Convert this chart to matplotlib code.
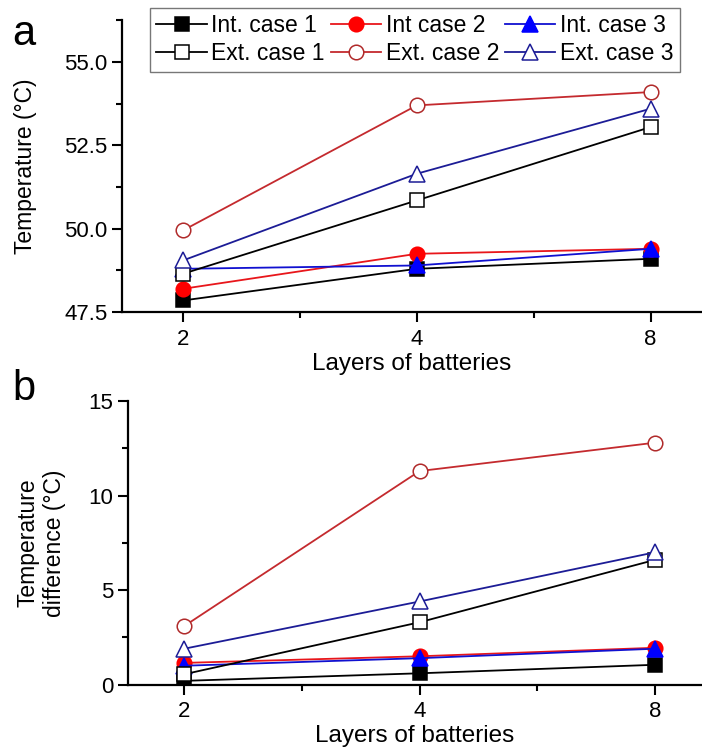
import matplotlib
matplotlib.use('Agg')
import matplotlib.pyplot as plt
from matplotlib.ticker import MultipleLocator, AutoMinorLocator

plt.rcParams['font.family'] = ['Liberation Sans', 'DejaVu Sans']

layers = ['2', '4', '8']
x = [0, 1, 2]

# panel a: temperature (deg C)
temp_int1 = [47.85, 48.8, 49.1]
temp_int2 = [48.2, 49.25, 49.4]
temp_int3 = [48.8, 48.9, 49.4]
temp_ext1 = [48.65, 50.85, 53.05]
temp_ext2 = [49.95, 53.7, 54.1]
temp_ext3 = [49.05, 51.65, 53.6]

# panel b: temperature difference (deg C)
diff_int1 = [0.2, 0.6, 1.05]
diff_int2 = [1.15, 1.5, 1.95]
diff_int3 = [1.0, 1.4, 1.9]
diff_ext1 = [0.55, 3.3, 6.6]
diff_ext2 = [3.1, 11.3, 12.8]
diff_ext3 = [1.9, 4.4, 7.0]

labels = ['Int. case 1', 'Int case 2', 'Int. case 3',
          'Ext. case 1', 'Ext. case 2', 'Ext. case 3']

styles = [
    dict(color='black', marker='s', mfc='black', mec='black', ms=9.5),
    dict(color='#e8161b', marker='o', mfc='#ff0000', mec='#ff0000', ms=10.5),
    dict(color='#1010d0', marker='^', mfc='#0000ff', mec='#0000ff', ms=11),
    dict(color='black', marker='s', mfc='white', mec='black', ms=9.5),
    dict(color='#c42a2e', marker='o', mfc='white', mec='#b02a2a', ms=10.5),
    dict(color='#1c1c96', marker='^', mfc='white', mec='#1c1c96', ms=11),
]

fig = plt.figure(figsize=(7.02, 7.54), dpi=100)
ax1 = fig.add_axes([0.174, 0.586, 0.826, 0.387])
ax2 = fig.add_axes([0.182, 0.092, 0.818, 0.376])


def draw(ax, series):
    handles = []
    for y, st in zip(series, styles):
        h, = ax.plot(x, y, lw=1.3, mew=1.1, **st)
        handles.append(h)
    ax.set_xticks(x)
    ax.set_xticklabels(layers)
    ax.xaxis.set_minor_locator(MultipleLocator(0.5))
    ax.yaxis.set_minor_locator(AutoMinorLocator(2))
    ax.spines['top'].set_visible(False)
    ax.spines['right'].set_visible(False)
    for s in ['left', 'bottom']:
        ax.spines[s].set_linewidth(1.6)
    ax.tick_params(which='major', direction='out', length=7, width=1.5, labelsize=16)
    ax.tick_params(axis='x', which='major', pad=5)
    ax.tick_params(which='minor', direction='out', length=4, width=1.5)
    ax.set_xlabel('Layers of batteries', fontsize=17.5, labelpad=2)
    return handles


handles = draw(ax1, [temp_int1, temp_int2, temp_int3, temp_ext1, temp_ext2, temp_ext3])
ax1.set_xlim(-0.26, 2.22)
ax1.set_ylim(47.5, 56.25)
ax1.set_yticks([47.5, 50.0, 52.5, 55.0])
ax1.set_yticklabels(['47.5', '50.0', '52.5', '55.0'])
ax1.set_ylabel('Temperature (°C)', fontsize=16.5, labelpad=20)

draw(ax2, [diff_int1, diff_int2, diff_int3, diff_ext1, diff_ext2, diff_ext3])
ax2.set_xlim(-0.24, 2.2)
ax2.set_ylim(0, 15)
ax2.set_yticks([0, 5, 10, 15])
ax2.set_ylabel('Temperature\ndifference (°C)', fontsize=16.5, labelpad=16)

order = [0, 3, 1, 4, 2, 5]
leg = fig.legend([handles[i] for i in order], [labels[i] for i in order],
                 ncol=3, loc='upper left', bbox_to_anchor=(0.213, 0.99),
                 fontsize=16.5, frameon=True, fancybox=False, edgecolor='#555555',
                 handlelength=2.2, handletextpad=0.2, columnspacing=0.25,
                 labelspacing=0.2, borderpad=0.3, borderaxespad=0)
leg.get_frame().set_linewidth(1.0)

fig.text(0.017, 0.94, 'a', fontsize=30)
fig.text(0.017, 0.47, 'b', fontsize=30)

fig.savefig('out.png', dpi=100)
